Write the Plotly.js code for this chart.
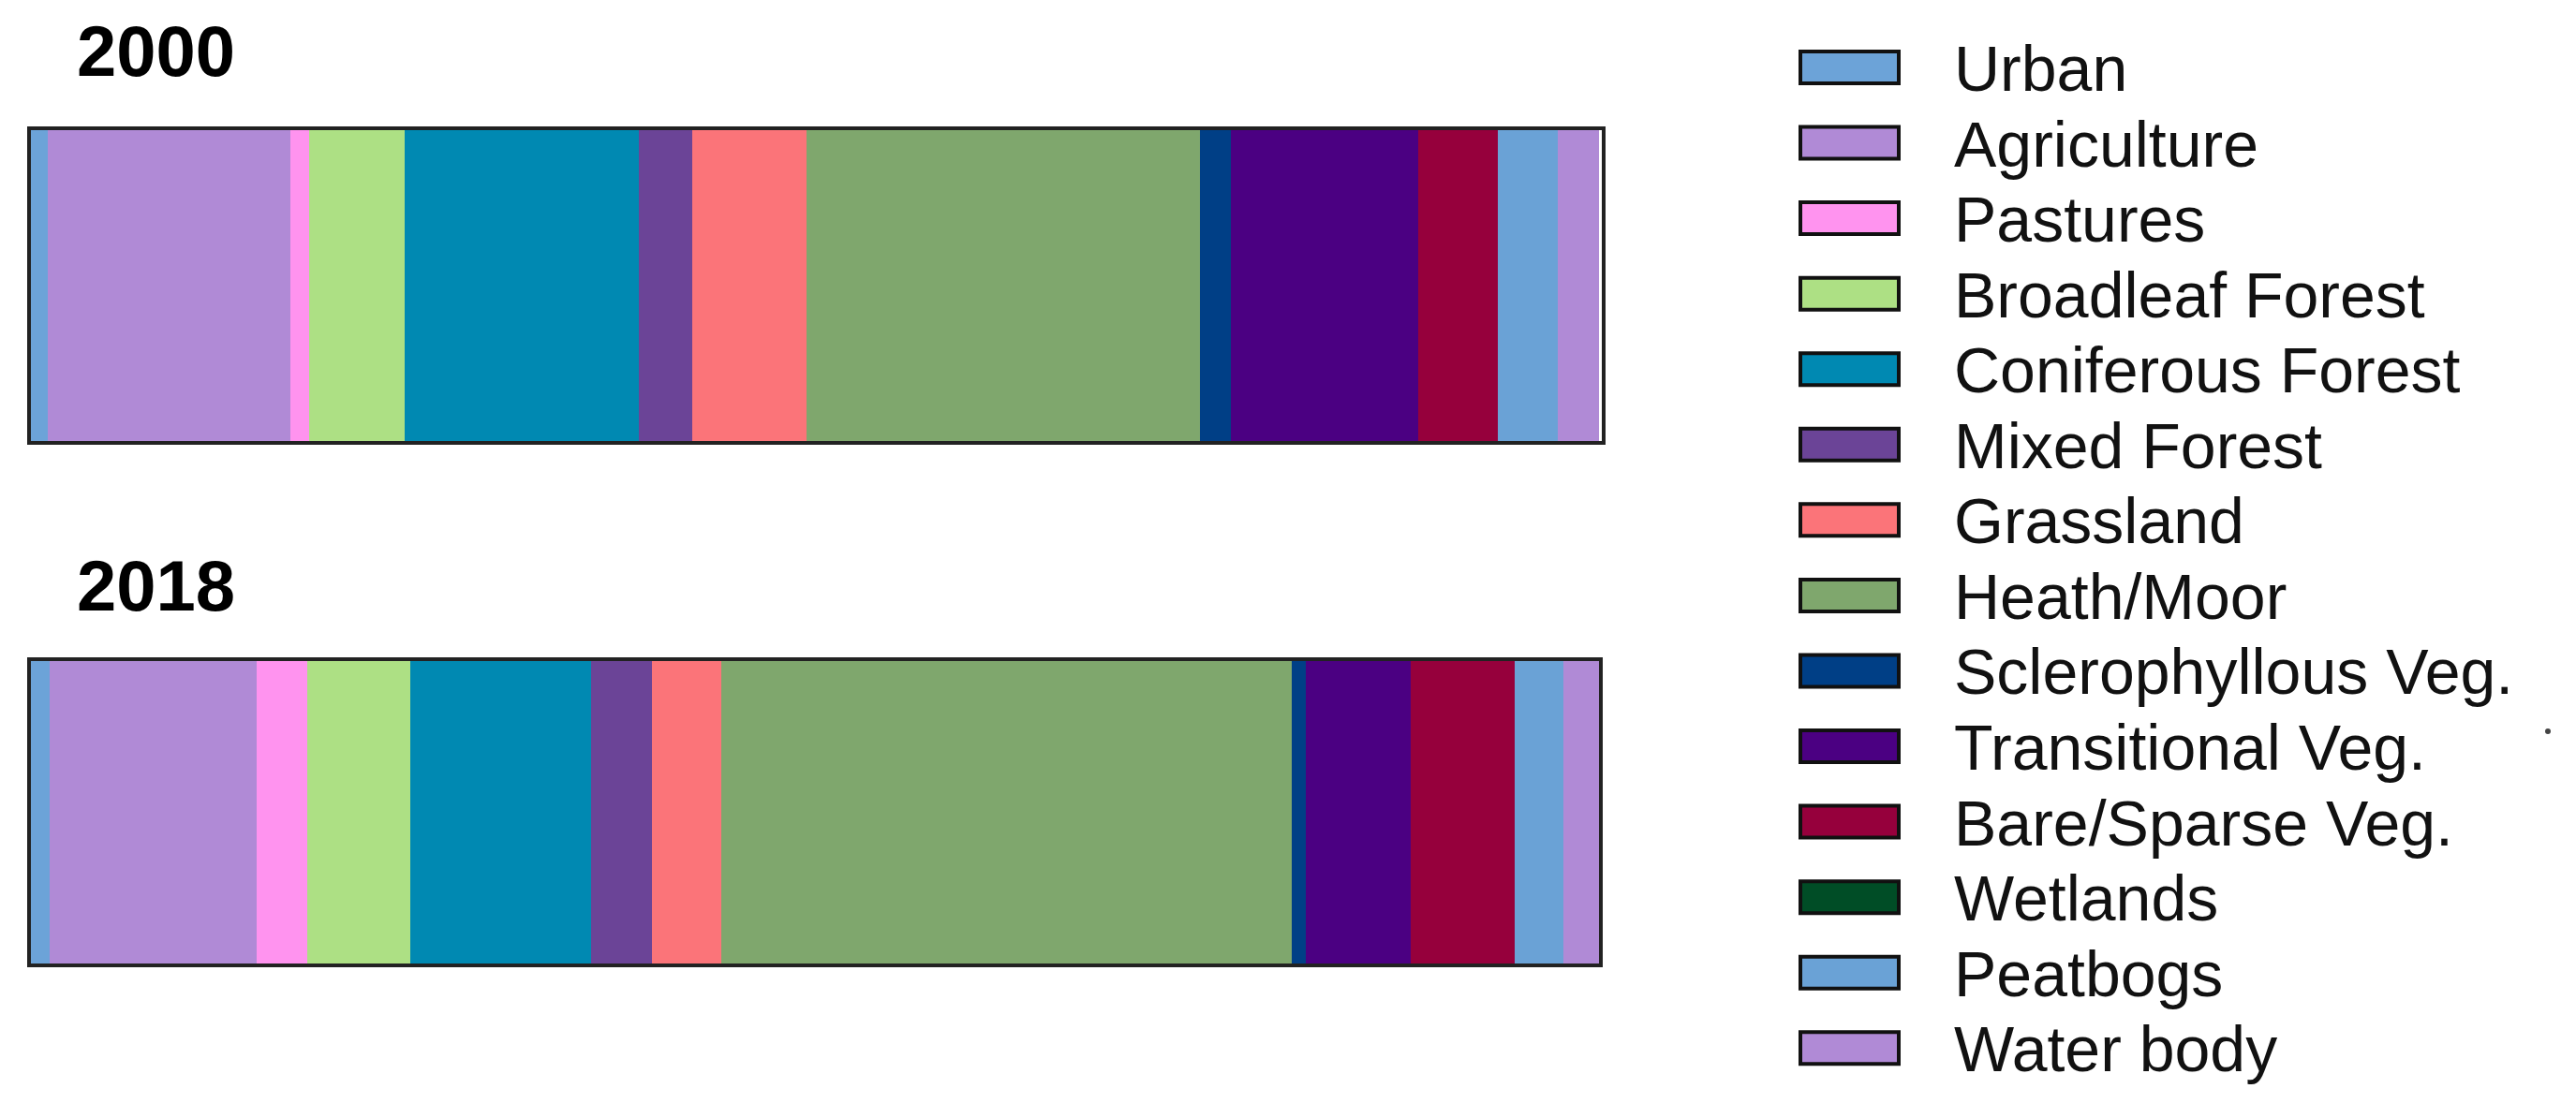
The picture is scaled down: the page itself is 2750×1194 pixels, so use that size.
<!DOCTYPE html>
<html>
<head>
<meta charset="utf-8">
<script src="https://cdn.plot.ly/plotly-3.0.1.min.js"></script>
<style>
  html, body { margin: 0; padding: 0; background: #fff; }
  #chart { width: 2750px; height: 1194px; }
</style>
</head>
<body>
<div id="chart"></div>
<script>
// land cover classes, in stacking order (left to right)
var classes = ['Urban', 'Agriculture', 'Pastures', 'Broadleaf Forest', 'Coniferous Forest',
  'Mixed Forest', 'Grassland', 'Heath/Moor', 'Sclerophyllous Veg.', 'Transitional Veg.',
  'Bare/Sparse Veg.', 'Wetlands', 'Peatbogs', 'Water body'];

var colors = ['#6ca3d8', '#b08ad6', '#ff93ef', '#ade084', '#0089b2',
  '#6b4497', '#fb7479', '#7fa76d', '#003f86', '#4b0082',
  '#96003c', '#004d26', '#6aa2d6', '#b08ad6'];

// share of area (%)
var share2000 = [1.1, 15.4, 1.2, 6.1, 14.9, 3.4, 7.3, 25.0, 2.0, 11.9, 5.1, 0.0, 3.8, 2.6];
var share2018 = [1.2, 13.2, 3.2, 6.6, 11.5, 3.9, 4.4, 36.4, 0.9, 6.7, 6.6, 0.0, 3.1, 2.3];

var years = ['2000', '2018'];

var W = 2750, H = 1194;
function px(x) { return x / W; }
function py(y) { return 1 - y / H; }

var data = [];
classes.forEach(function (c, i) {
  data.push({
    type: 'bar', orientation: 'h', name: c,
    x: [share2000[i]], y: [0], xaxis: 'x', yaxis: 'y',
    marker: { color: colors[i], line: { width: 0 } },
    showlegend: false, hoverinfo: 'name+x'
  });
  data.push({
    type: 'bar', orientation: 'h', name: c,
    x: [share2018[i]], y: [0], xaxis: 'x2', yaxis: 'y2',
    marker: { color: colors[i], line: { width: 0 } },
    showlegend: false, hoverinfo: 'name+x'
  });
});

var frame = {
  showline: true, mirror: true, linecolor: '#222', linewidth: 4,
  showgrid: false, zeroline: false, showticklabels: false, ticks: ''
};

function axis(extra) { return Object.assign({}, frame, extra); }

var layout = {
  width: W, height: H,
  margin: { l: 0, r: 0, t: 0, b: 0 },
  paper_bgcolor: '#fff', plot_bgcolor: '#fff',
  barmode: 'stack', bargap: 0,
  showlegend: false,
  xaxis: axis({ domain: [px(33), px(1710)], range: [0, 100], anchor: 'y' }),
  yaxis: axis({ domain: [py(471), py(139)], range: [-0.5, 0.5], anchor: 'x' }),
  xaxis2: axis({ domain: [px(33), px(1707)], range: [0, 100], anchor: 'y2' }),
  yaxis2: axis({ domain: [py(1029), py(706)], range: [-0.5, 0.5], anchor: 'x2' }),
  annotations: [],
  shapes: []
};

// year labels above each bar
var yearY = [55, 625];
years.forEach(function (yr, k) {
  layout.annotations.push({
    xref: 'paper', yref: 'paper', x: px(80), y: py(yearY[k]),
    xanchor: 'left', yanchor: 'middle', showarrow: false,
    text: '<b>' + yr + '</b>',
    font: { family: 'Liberation Sans, Arial, sans-serif', size: 76, color: '#000' }
  });
});

// hand-built legend with wide swatches
var rowStep = 80.56, row0 = 72;
classes.forEach(function (c, i) {
  var yc = row0 + i * rowStep;
  layout.shapes.push({
    type: 'rect', xref: 'paper', yref: 'paper',
    x0: px(1922), x1: px(2027), y0: py(yc + 17), y1: py(yc - 17),
    fillcolor: colors[i], line: { color: '#111', width: 4 }
  });
  layout.annotations.push({
    xref: 'paper', yref: 'paper', x: px(2084), y: py(yc + 1),
    xanchor: 'left', yanchor: 'middle', showarrow: false,
    text: c,
    font: { family: 'Liberation Sans, Arial, sans-serif', size: 68, color: '#111' }
  });
});

// stray dot to the right of the legend
layout.shapes.push({
  type: 'circle', xref: 'paper', yref: 'paper',
  x0: px(2717), x1: px(2723), y0: py(784), y1: py(778),
  fillcolor: '#444', line: { width: 0 }
});

Plotly.newPlot('chart', data, layout, { staticPlot: true });
</script>
</body>
</html>
